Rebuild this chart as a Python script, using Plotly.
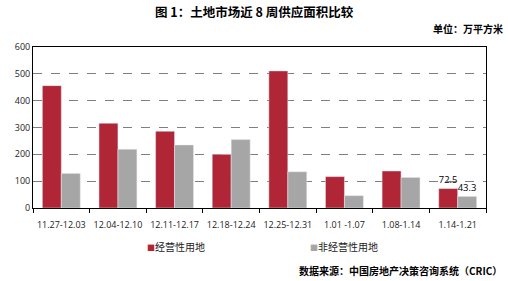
import plotly.graph_objects as go

categories = ["11.27-12.03", "12.04-12.10", "12.11-12.17", "12.18-12.24",
              "12.25-12.31", "1.01 -1.07", "1.08-1.14", "1.14-1.21"]
commercial = [456, 316, 286, 200, 511, 117, 138, 72.5]
noncommercial = [129, 219, 235, 255, 135, 46, 114, 43.3]
label_commercial = ["", "", "", "", "", "", "", "72.5"]
label_noncommercial = ["", "", "", "", "", "", "", "43.3"]
y_ticks = [0, 100, 200, 300, 400, 500, 600]

RED = "#B02636"
GRAY = "#A6A6A6"
FONT = "Noto Sans CJK SC"
NUMFONT = "Open Sans"

fig = go.Figure()
fig.add_trace(go.Bar(x=categories, y=commercial, name="经营性用地", marker_color=RED,
                     text=label_commercial, textposition="outside", cliponaxis=False,
                     textfont=dict(size=10, color="#000000", family=NUMFONT)))
fig.add_trace(go.Bar(x=categories, y=noncommercial, name="非经营性用地", marker_color=GRAY,
                     text=label_noncommercial, textposition="outside", cliponaxis=False,
                     textfont=dict(size=10, color="#000000", family=NUMFONT)))

W, H = 508, 281
l, r, t, b = 33, 22, 47, 73
pw, ph = W - l - r, H - t - b
def px(xp, yp):
    return (xp - l) / pw, 1 - (yp - t) / ph

def ann(text, xp, yp, xanchor, size=10, color="#000000"):
    x, y = px(xp, yp)
    return dict(text=text, x=x, y=y, xref="paper", yref="paper", xanchor=xanchor,
                yanchor="middle", showarrow=False, font=dict(size=size, family=FONT, color=color))

fig.update_layout(
    width=W, height=H,
    margin=dict(l=l, r=r, t=t, b=b),
    paper_bgcolor="white", plot_bgcolor="white",
    barmode="group", bargap=0.33, bargroupgap=0,
    showlegend=False,
    font=dict(family=FONT, size=10, color="#000000"),
    xaxis=dict(showline=True, linecolor="#000000", linewidth=1, mirror=True,
               ticks="outside", ticklen=4, tickcolor="#000000", tickangle=0,
               ticklabelstandoff=8,
               tickson="boundaries", tickfont=dict(size=9, color="#222222", family=NUMFONT),
               showgrid=False),
    yaxis=dict(range=[0, 600], tickvals=y_ticks, showline=True, linecolor="#000000",
               linewidth=1, mirror=True, ticks="", showgrid=True,
               gridcolor="#7F7F7F", griddash="dash", gridwidth=1,
               tickfont=dict(size=9, color="#222222", family=NUMFONT), zeroline=False),
    annotations=[
        ann("<b>图 1：土地市场近 8 周供应面积比较</b>", 254, 12, "center", size=12.5),
        ann("<b>单位：万平方米</b>", 505, 28, "right"),
        ann("<b>数据来源：中国房地产决策咨询系统（CRIC）</b>", 504, 270, "right"),
        ann(f"<span style='color:{RED};font-size:8px'>■</span>经营性用地", 145, 246, "left", color="#222222"),
        ann(f"<span style='color:{GRAY};font-size:8px'>■</span>非经营性用地", 308, 246, "left", color="#222222"),
    ],
)

fig.write_html("out.html")
